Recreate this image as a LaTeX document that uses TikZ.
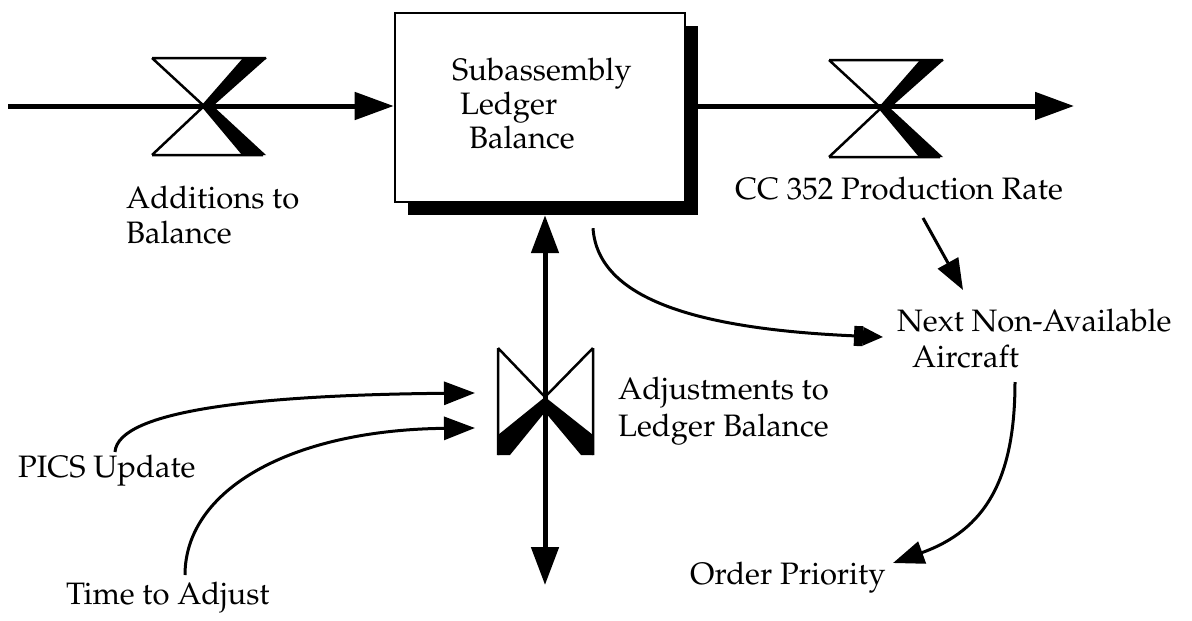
\documentclass[tikz,border=0pt]{standalone}
\usepackage[T1]{fontenc}
\usepackage{mathpazo}
\usetikzlibrary{arrows.meta,calc}
\tikzset{
  lbl/.style={inner sep=0pt, anchor=base west, font=\fontsize{31}{35}\selectfont},
  flowline/.style={line width=5pt, -{Triangle[length=39pt,width=27pt]}},
  bothflow/.style={line width=5pt, {Triangle[length=38pt,width=27pt]}-{Triangle[length=38pt,width=27pt]}},
  infoline/.style={line width=3pt, -{Triangle[length=31pt,width=23pt]}},
  barinfo/.style={line width=3pt, -{Rectangle[length=9pt,width=20pt] Triangle[length=20pt,width=18pt]}},
  stockbox/.style={draw, line width=2.6pt, fill=white, minimum width=290pt, minimum height=189pt, inner sep=0pt},
  stockshadow/.style={fill=black, minimum width=290pt, minimum height=189pt, inner sep=0pt},
  hvalve/.pic={
    \draw[line width=2.5pt, line join=miter] (-52,-48) -- (62,-48) (-52,49) -- (59,49) (-52,-48) -- (0,0) -- (-52,49);
    \fill (39,-48) -- (63,-48) -- (9,0) -- (62,49) -- (38,49) -- (-3,0) -- cycle;
  },
  vvalve/.pic={
    \draw[line width=2.5pt, line join=miter] (-47,-49) -- (-47,58) (48,-49) -- (48,58) (-47,-49) -- (0,0) -- (48,-49);
    \fill (-47,38) -- (0,0) -- (48,38) -- (48,58) -- (36,58) -- (0,15) -- (-35,58) -- (-47,58) -- cycle;
  }
}
\begin{document}
\begin{tikzpicture}[x=1pt,y=-1pt]
\useasboundingbox (0,0) rectangle (1192,621);
% coordinates
\coordinate (src) at (8,106);
\coordinate (sink) at (1074,106);
\coordinate (v1) at (204,106);
\coordinate (v2) at (881,108);
\coordinate (v3) at (545,397);
\coordinate (vend) at (545,585);
% stock
\node[stockshadow] (shadow) at (553,120.5) {};
\node[stockbox] (stock) at (540,107.5) {};
\node[lbl] (s1) at (452,80) {Subassembly};
\node[lbl] (s2) at (460,114) {Ledger};
\node[lbl] (s3) at (469,148) {Balance};
% flows
\draw[flowline] (src) -- (src -| stock.west);
\draw[flowline] (shadow.east |- src) -- (sink);
\draw[bothflow] (shadow.south -| v3) -- (vend);
% valves
\pic at (v1) {hvalve};
\pic at (v2) {hvalve};
\pic at (v3) {vvalve};
% labels
\node[lbl] (add1) at (126,208) {Additions to};
\node[lbl] (add2) at (126,243) {Balance};
\node[lbl] (cc) at (735,199) {CC 352 Production Rate};
\node[lbl] (next1) at (897,331) {Next Non-Available};
\node[lbl] (next2) at (912,367) {Aircraft};
\node[lbl] (adj1) at (618,399) {Adjustments to};
\node[lbl] (adj2) at (618,436) {Ledger Balance};
\node[lbl] (pics) at (18,477) {PICS Update};
\node[lbl] (time) at (66,604) {Time to Adjust};
\node[lbl] (order) at (690,584) {Order Priority};
% info links
\draw[barinfo] ($(shadow.south)+(40,13)$) .. controls +(5,72) and +(-183,-7) .. ($(next1.base west)+(-14,6)$);
\draw[infoline] ($(cc.base west)+(188,19)$) -- ($(next1.base west)+(66,-41)$);
\draw[infoline] ($(next2.base west)+(103,15)$) .. controls +(0,98) and +(92,-33) .. ($(order.base west)+(203,-21)$);
\draw[infoline] ($(pics.base west)+(97,-25)$) .. controls +(3,-42) and +(-215,2) .. ($(v3)+(-70,-4)$);
\draw[infoline] ($(time.base west)+(119,-29)$) .. controls +(0,-85) and +(-185,2) .. ($(v3)+(-70,31)$);
\end{tikzpicture}
\end{document}
